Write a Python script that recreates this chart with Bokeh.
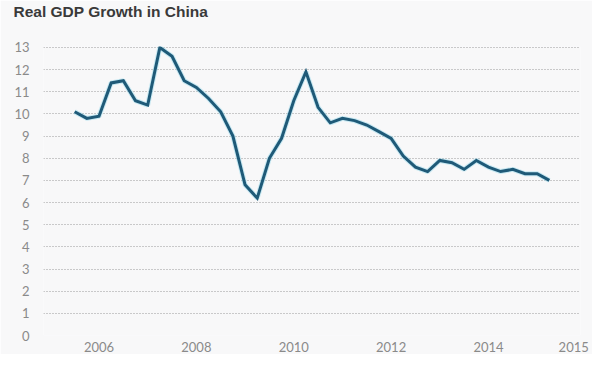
from bokeh.plotting import figure
from bokeh.models import Range1d, FixedTicker, ColumnDataSource, Title
from bokeh.embed import file_html
from bokeh.resources import INLINE

quarters = ["2005Q3", "2005Q4",
            "2006Q1", "2006Q2", "2006Q3", "2006Q4",
            "2007Q1", "2007Q2", "2007Q3", "2007Q4",
            "2008Q1", "2008Q2", "2008Q3", "2008Q4",
            "2009Q1", "2009Q2", "2009Q3", "2009Q4",
            "2010Q1", "2010Q2", "2010Q3", "2010Q4",
            "2011Q1", "2011Q2", "2011Q3", "2011Q4",
            "2012Q1", "2012Q2", "2012Q3", "2012Q4",
            "2013Q1", "2013Q2", "2013Q3", "2013Q4",
            "2014Q1", "2014Q2", "2014Q3", "2014Q4",
            "2015Q1", "2015Q2"]
growth = [10.1, 9.8, 9.9, 11.4, 11.5, 10.6, 10.4, 13.0, 12.6, 11.5,
          11.2, 10.7, 10.1, 9.0, 6.8, 6.2, 8.0, 8.9, 10.6, 11.9,
          10.3, 9.6, 9.8, 9.7, 9.5, 9.2, 8.9, 8.1, 7.6, 7.4,
          7.9, 7.8, 7.5, 7.9, 7.6, 7.4, 7.5, 7.3, 7.3, 7.0]
x_ticks = [2006, 2008, 2010, 2012, 2014, 2015.75]
x_tick_labels = ["2006", "2008", "2010", "2012", "2014", "2015"]
y_ticks = list(range(0, 14))
title_text = "Real GDP Growth in China"

xs = [int(q[:4]) + (int(q[5]) - 1) / 4 for q in quarters]
src = ColumnDataSource(data=dict(x=xs, y=growth))

BG = "#f8f8f9"
p = figure(width=592, height=354, output_backend="svg", toolbar_location=None,
           title=None,
           x_range=Range1d(2004.86, 2015.89), y_range=Range1d(0, 13.045),
           background_fill_color=BG, border_fill_color=BG,
           min_border_left=43, min_border_right=12, min_border_top=0,
           min_border_bottom=16)
p.outline_line_color = None

# empty spacer title (closest to the frame), then the real title above it
spacer = Title(text=" ", text_font_size="22px", standoff=0, offset=0)
p.add_layout(spacer, "above")
main = Title(text=title_text, text_font="Liberation Sans", text_font_size="15.5px",
             text_font_style="bold", text_color="#3a3a3a", align="left",
             offset=-30, standoff=0)
p.add_layout(main, "above")

p.line("x", "y", source=src, line_color="#8fd6ec", line_width=5, line_alpha=0.45)
p.line("x", "y", source=src, line_color="#1f5a78", line_width=3, line_join="miter")

p.xgrid.grid_line_color = None
p.ygrid.grid_line_color = "#9a9a9a"
p.ygrid.grid_line_dash = "1 2"
p.ygrid.grid_line_width = 1

for ax in (p.xaxis, p.yaxis):
    ax.axis_line_color = None
    ax.major_tick_line_color = None
    ax.minor_tick_line_color = None
    ax.major_label_text_font = "Lato"
    ax.major_label_text_font_size = "13px"
    ax.major_label_text_color = "#8a8a8a"

p.yaxis.ticker = FixedTicker(ticks=y_ticks)
p.yaxis.major_label_standoff = 8
p.xaxis.ticker = FixedTicker(ticks=x_ticks)
p.xaxis.major_label_overrides = {t: l for t, l in zip(x_ticks, x_tick_labels)}
p.xaxis.major_label_standoff = 0

open("out.html", "w").write(file_html(p, INLINE))
